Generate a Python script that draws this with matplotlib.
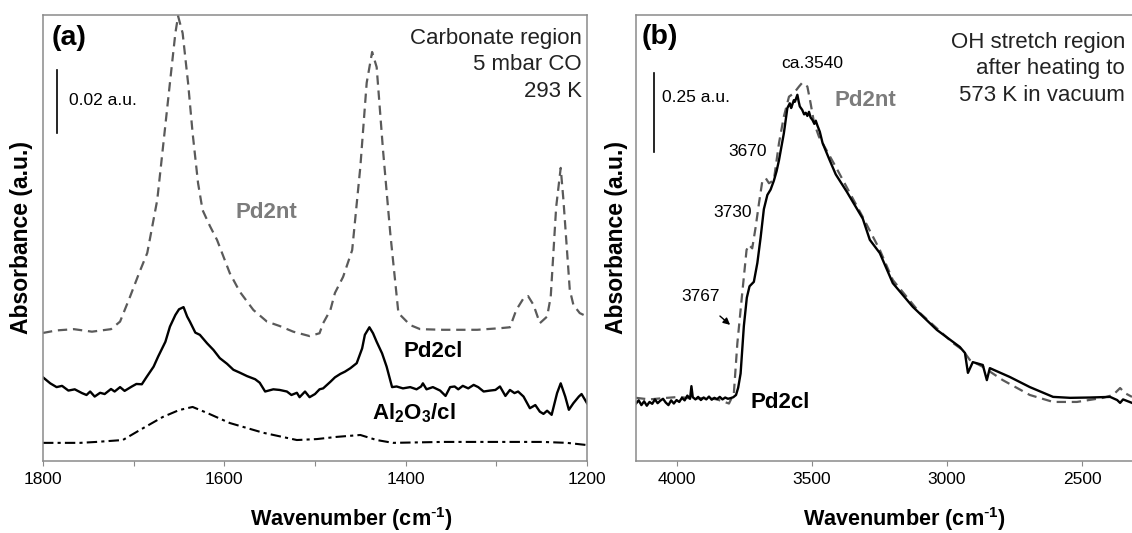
import numpy as np
import matplotlib
matplotlib.use("Agg")
import matplotlib.pyplot as plt

plt.rcParams['font.family'] = ['Liberation Sans', 'DejaVu Sans']
plt.rcParams['mathtext.default'] = 'regular'

# ---- panel (a): carbonate region, 5 mbar CO, 293 K ----
wn_a_nt = [1800, 1785, 1766, 1746, 1725, 1715, 1704, 1694, 1685, 1674, 1668, 1660, 1654, 1651,
           1646, 1640, 1635, 1629, 1624, 1616, 1608, 1594, 1583, 1568, 1553, 1539, 1524, 1506,
           1495, 1491, 1483, 1478, 1469, 1459, 1450, 1443, 1437, 1432, 1425, 1417, 1408, 1395,
           1384, 1359, 1321, 1296, 1285, 1278, 1270, 1265, 1259, 1252, 1244, 1240, 1234, 1229,
           1226, 1219, 1215, 1208, 1200]
abs_a_nt = [0.0400, 0.0408, 0.0412, 0.0404, 0.0412, 0.0436, 0.0515, 0.0590, 0.0654, 0.0822,
            0.0981, 0.1194, 0.1352, 0.1406, 0.1352, 0.1194, 0.1035, 0.0876, 0.0790, 0.0740,
            0.0695, 0.0590, 0.0531, 0.0473, 0.0436, 0.0422, 0.0404, 0.0390, 0.0399, 0.0431,
            0.0473, 0.0527, 0.0578, 0.0663, 0.0927, 0.1194, 0.1292, 0.1244, 0.0981, 0.0717,
            0.0463, 0.0425, 0.0412, 0.0410, 0.0410, 0.0415, 0.0418, 0.0473, 0.0510, 0.0517,
            0.0489, 0.0431, 0.0452, 0.0515, 0.0800, 0.0924, 0.0822, 0.0537, 0.0489, 0.0463,
            0.0452]

wn_a_cl = [1800, 1792, 1785, 1779, 1772, 1765, 1757, 1752, 1748, 1743, 1737, 1732, 1725, 1721,
           1715, 1710, 1702, 1697, 1691, 1686, 1678, 1673, 1665, 1660, 1654, 1650, 1645, 1641,
           1638, 1632, 1627, 1619, 1612, 1605, 1597, 1590, 1583, 1575, 1566, 1561, 1555, 1546,
           1539, 1531, 1526, 1520, 1517, 1511, 1506, 1500, 1495, 1491, 1483, 1478, 1472, 1467,
           1461, 1454, 1448, 1445, 1440, 1436, 1432, 1426, 1421, 1415, 1410, 1403, 1395, 1388,
           1383, 1381, 1377, 1370, 1362, 1356, 1351, 1346, 1342, 1337, 1331, 1325, 1320, 1314,
           1307, 1301, 1296, 1290, 1285, 1280, 1276, 1270, 1263, 1257, 1252, 1248, 1244, 1239,
           1233, 1229, 1224, 1220, 1215, 1209, 1206, 1200]
abs_a_cl = [0.0259, 0.0240, 0.0228, 0.0232, 0.0217, 0.0221, 0.0209, 0.0203, 0.0214, 0.0198,
            0.0210, 0.0206, 0.0222, 0.0214, 0.0228, 0.0216, 0.0230, 0.0238, 0.0237, 0.0259,
            0.0293, 0.0325, 0.0372, 0.0420, 0.0457, 0.0475, 0.0482, 0.0452, 0.0436, 0.0401,
            0.0394, 0.0367, 0.0346, 0.0320, 0.0302, 0.0283, 0.0274, 0.0263, 0.0253, 0.0242,
            0.0214, 0.0221, 0.0219, 0.0214, 0.0203, 0.0210, 0.0196, 0.0214, 0.0196, 0.0206,
            0.0221, 0.0224, 0.0245, 0.0259, 0.0270, 0.0277, 0.0288, 0.0304, 0.0351, 0.0394,
            0.0418, 0.0399, 0.0372, 0.0335, 0.0293, 0.0228, 0.0230, 0.0224, 0.0228, 0.0221,
            0.0230, 0.0240, 0.0221, 0.0228, 0.0217, 0.0200, 0.0228, 0.0230, 0.0221, 0.0232,
            0.0224, 0.0235, 0.0228, 0.0214, 0.0217, 0.0219, 0.0230, 0.0200, 0.0219, 0.0209,
            0.0214, 0.0198, 0.0161, 0.0171, 0.0150, 0.0143, 0.0153, 0.0140, 0.0209, 0.0240,
            0.0198, 0.0156, 0.0177, 0.0198, 0.0206, 0.0177]

wn_a_al = [1800, 1759, 1741, 1712, 1693, 1668, 1650, 1635, 1619, 1594, 1557, 1520, 1498, 1476,
           1450, 1432, 1414, 1359, 1304, 1249, 1222, 1200]
abs_a_al = [0.0051, 0.0051, 0.0054, 0.0060, 0.0092, 0.0133, 0.0155, 0.0165, 0.0146, 0.0114,
            0.0083, 0.0060, 0.0063, 0.0070, 0.0076, 0.0060, 0.0051, 0.0054, 0.0054, 0.0054,
            0.0051, 0.0044]

# ---- panel (b): OH stretch region after heating to 573 K in vacuum ----
wn_b_cl = [4150, 4140, 4130, 4120, 4110, 4100, 4090, 4080, 4070, 4060, 4050, 4040, 4030, 4020,
           4010, 4000, 3990, 3980, 3970, 3960, 3950, 3945, 3940, 3930, 3920, 3910, 3900, 3890,
           3880, 3870, 3860, 3850, 3840, 3830, 3820, 3810, 3800, 3790, 3780, 3772, 3763, 3751,
           3740, 3730, 3714, 3701, 3689, 3677, 3664, 3652, 3640, 3630, 3621, 3603, 3590, 3581,
           3576, 3572, 3566, 3562, 3553, 3548, 3544, 3535, 3528, 3522, 3516, 3510, 3504, 3497,
           3490, 3485, 3479, 3470, 3460, 3448, 3436, 3411, 3370, 3311, 3285, 3248, 3200, 3126,
           3037, 2952, 2933, 2922, 2904, 2867, 2852, 2841, 2767, 2693, 2607, 2544, 2470, 2396,
           2370, 2359, 2348, 2315]
abs_b_cl = [0.185, 0.195, 0.180, 0.192, 0.178, 0.190, 0.184, 0.198, 0.186, 0.194, 0.200, 0.188,
            0.180, 0.195, 0.185, 0.196, 0.190, 0.203, 0.195, 0.210, 0.200, 0.240, 0.205, 0.198,
            0.206, 0.196, 0.204, 0.198, 0.207, 0.197, 0.203, 0.199, 0.206, 0.198, 0.204, 0.200,
            0.202, 0.205, 0.212, 0.235, 0.280, 0.430, 0.520, 0.556, 0.570, 0.630, 0.710, 0.800,
            0.845, 0.862, 0.890, 0.920, 0.955, 1.040, 1.120, 1.135, 1.120, 1.130, 1.145, 1.140,
            1.162, 1.140, 1.125, 1.114, 1.100, 1.105, 1.095, 1.108, 1.090, 1.082, 1.070, 1.080,
            1.065, 1.045, 1.010, 0.985, 0.960, 0.910, 0.855, 0.770, 0.703, 0.661, 0.566, 0.491,
            0.418, 0.364, 0.345, 0.282, 0.316, 0.307, 0.259, 0.297, 0.269, 0.237, 0.206, 0.203,
            0.204, 0.206, 0.196, 0.187, 0.198, 0.187]

wn_b_nt = [4150, 4100, 4050, 3989, 3940, 3889, 3850, 3806, 3788, 3775, 3757, 3741, 3732, 3720,
           3707, 3695, 3683, 3670, 3658, 3640, 3621, 3603, 3584, 3566, 3547, 3535, 3516, 3504,
           3491, 3473, 3411, 3311, 3248, 3200, 3100, 2978, 2941, 2915, 2867, 2793, 2693, 2607,
           2519, 2422, 2385, 2359, 2341, 2315]
abs_b_nt = [0.203, 0.198, 0.202, 0.206, 0.200, 0.203, 0.198, 0.185, 0.217, 0.376, 0.534, 0.671,
            0.687, 0.676, 0.745, 0.819, 0.887, 0.898, 0.882, 0.892, 1.009, 1.093, 1.156, 1.167,
            1.188, 1.200, 1.188, 1.135, 1.072, 1.029, 0.934, 0.775, 0.671, 0.576, 0.472, 0.377,
            0.354, 0.323, 0.301, 0.259, 0.212, 0.190, 0.190, 0.203, 0.212, 0.234, 0.218, 0.206]

GREY_LINE = '#5a5a5a'
GREY_TEXT = '#7c7c7c'
SPINE = '#8a8a8a'
DASH = (4.2, 2.6)
DASHDOT = (5, 2, 1.5, 2)
XLABEL = 'Wavenumber (cm$^{\\text{-}1}$)'

fig = plt.figure(figsize=(11.32, 5.33), dpi=100)
ax_a = fig.add_axes([43 / 1132, 72.5 / 533, 544 / 1132, 446 / 533])
ax_b = fig.add_axes([636 / 1132, 72.5 / 533, 496 / 1132, 446 / 533])


def style_axes(ax, xlabel_x):
    for side in ['left', 'right', 'top', 'bottom']:
        ax.spines[side].set_color(SPINE)
        ax.spines[side].set_linewidth(1.1)
    ax.set_yticks([])
    ax.tick_params(axis='x', which='both', direction='out', length=3.5, width=0.8,
                   color=SPINE, labelsize=12.5, pad=5)
    ax.set_ylabel('Absorbance (a.u.)', fontsize=16.5, fontweight='bold')
    ax.set_xlabel(XLABEL, fontsize=15.6, fontweight='bold')
    ax.xaxis.set_label_coords(xlabel_x, -0.099)


# panel (a)
ax = ax_a
style_axes(ax, 0.568)
ax.plot(wn_a_nt, abs_a_nt, color=GREY_LINE, lw=1.6, dashes=DASH)
ax.plot(wn_a_cl, abs_a_cl, color='black', lw=1.7)
ax.plot(wn_a_al, abs_a_al, color='black', lw=1.5, dashes=DASHDOT)
ax.set_xlim(1800, 1200)
ax.set_ylim(-0.0005, 0.1411)
ax.set_xticks([1800, 1600, 1400, 1200])
ax.set_xticks([1700, 1500, 1300], minor=True)
ax.yaxis.set_label_coords(-0.018, 0.5)

# 0.02 a.u. scale bar
ax.plot([1784.5, 1784.5], [0.1035, 0.1235], color='black', lw=1.2)
ax.text(0.048, 0.807, '0.02 a.u.', transform=ax.transAxes, fontsize=12.5, va='center')
ax.text(0.016, 0.948, '(a)', transform=ax.transAxes, fontsize=20.5, fontweight='bold', va='center')
ax.text(0.353, 0.555, 'Pd2nt', transform=ax.transAxes, fontsize=16, fontweight='bold',
        color=GREY_TEXT, va='center')
ax.text(0.662, 0.245, 'Pd2cl', transform=ax.transAxes, fontsize=16, fontweight='bold', va='center')
ax.text(0.605, 0.105, 'Al$_2$O$_3$/cl', transform=ax.transAxes, fontsize=16, fontweight='bold',
        va='center')
ax.text(0.991, 0.887, 'Carbonate region\n5 mbar CO\n293 K', transform=ax.transAxes, fontsize=16,
        ha='right', va='center', multialignment='right', linespacing=1.35, color='#222222')

# panel (b)
ax = ax_b
style_axes(ax, 0.542)
ax.spines['right'].set_visible(False)
ax.plot(wn_b_nt, abs_b_nt, color=GREY_LINE, lw=1.6, dashes=DASH)
ax.plot(wn_b_cl, abs_b_cl, color='black', lw=1.7)
ax.set_xlim(4150, 2315)
ax.set_ylim(0.0047, 1.416)
ax.set_xticks([4000, 3500, 3000, 2500])
ax.yaxis.set_label_coords(-0.016, 0.5)

# 0.25 a.u. scale bar
ax.plot([4085, 4085], [0.981, 1.231], color='black', lw=1.2)
ax.text(0.052, 0.813, '0.25 a.u.', transform=ax.transAxes, fontsize=12.5, va='center')
ax.text(0.012, 0.95, '(b)', transform=ax.transAxes, fontsize=20.5, fontweight='bold', va='center')
ax.text(0.355, 0.891, 'ca.3540', transform=ax.transAxes, fontsize=12.5, ha='center', va='center')
ax.text(0.264, 0.692, '3670', transform=ax.transAxes, fontsize=12.5, ha='right', va='center')
ax.text(0.234, 0.555, '3730', transform=ax.transAxes, fontsize=12.5, ha='right', va='center')
ax.text(0.169, 0.367, '3767', transform=ax.transAxes, fontsize=12.5, ha='right', va='center')
ax.annotate('', xy=(0.194, 0.300), xytext=(0.165, 0.328), xycoords='axes fraction',
            arrowprops=dict(arrowstyle='-|>', color='black', lw=1.0, mutation_scale=10))
ax.text(0.230, 0.129, 'Pd2cl', transform=ax.transAxes, fontsize=16, fontweight='bold', va='center')
ax.text(0.401, 0.808, 'Pd2nt', transform=ax.transAxes, fontsize=16, fontweight='bold',
        color=GREY_TEXT, va='center')
ax.text(0.986, 0.878, 'OH stretch region\nafter heating to\n573 K in vacuum', transform=ax.transAxes,
        fontsize=16, ha='right', va='center', multialignment='right', linespacing=1.35,
        color='#222222')

fig.savefig('out.png', dpi=100)
